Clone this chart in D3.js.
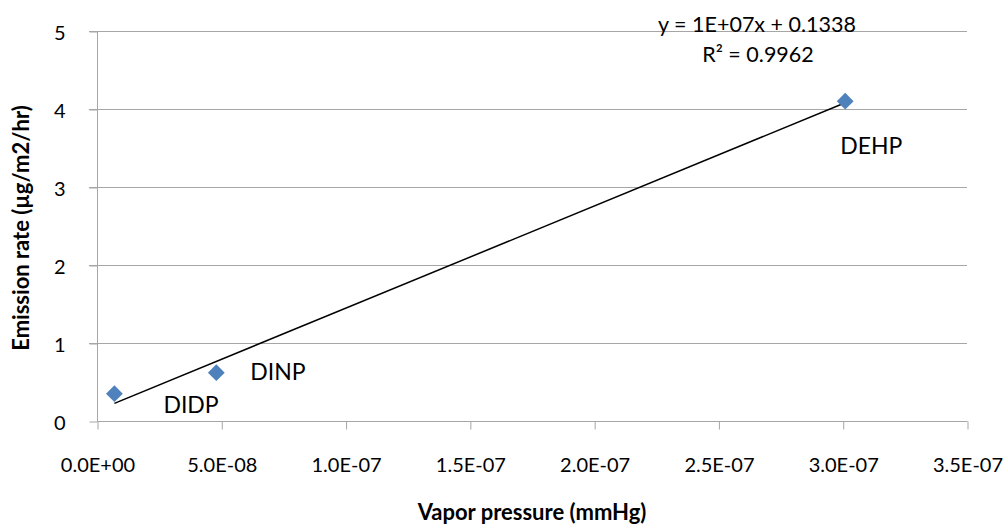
<!DOCTYPE html>
<html>
<head>
<meta charset="utf-8">
<script src="https://cdn.jsdelivr.net/npm/d3@7/dist/d3.min.js"></script>
<style>
  html, body { margin: 0; padding: 0; background: #fff; }
  svg { display: block; font-family: Lato, "Open Sans", sans-serif; }
</style>
</head>
<body>
<svg id="chart" width="1006" height="525"></svg>
<script>
// Phthalate emission rate versus vapor pressure
const compounds     = ["DIDP", "DINP", "DEHP"];
const vaporPressure = [7.0e-9, 4.8e-8, 3.01e-7];   // mmHg
const emissionRate  = [0.35, 0.62, 4.10];          // µg/m2/hr

const xTicks = [0, 0.5e-7, 1.0e-7, 1.5e-7, 2.0e-7, 2.5e-7, 3.0e-7, 3.5e-7];
const xTickLabels = ["0.0E+00", "5.0E-08", "1.0E-07", "1.5E-07", "2.0E-07", "2.5E-07", "3.0E-07", "3.5E-07"];
const yTicks = [0, 1, 2, 3, 4, 5];

const equationText = "y = 1E+07x + 0.1338";
const r2Text = "R² = 0.9962";

// label placement relative to each marker (pixels)
const labelOffset = { DIDP: [49, 19], DINP: [34, 7], DEHP: [-5, 53] };

const svg = d3.select("#chart");
const plot = { left: 97, right: 967, top: 31, bottom: 421 };

const x = d3.scaleLinear().domain([0, 3.5e-7]).range([plot.left, plot.right]);
const y = d3.scaleLinear().domain([0, 5]).range([plot.bottom, plot.top]);

const gridColor = "#a6a6a6";

// horizontal gridlines
svg.append("g")
  .selectAll("line")
  .data(yTicks.filter(d => d > 0))
  .join("line")
  .attr("x1", plot.left - 8).attr("x2", plot.right)
  .attr("y1", d => y(d) + 0.5).attr("y2", d => y(d) + 0.5)
  .attr("stroke", gridColor).attr("stroke-width", 1);

// y axis
const yAxis = svg.append("g")
  .attr("transform", `translate(${plot.left + 0.5},0.5)`)
  .call(d3.axisLeft(y).tickValues(yTicks).tickSize(8).tickPadding(24).tickFormat(d3.format("d")));
yAxis.select(".domain").attr("stroke", gridColor).attr("d", `M0,${plot.top}V${plot.bottom}`);
yAxis.selectAll(".tick line").attr("stroke", gridColor);
yAxis.selectAll(".tick text")
  .attr("font-family", "Lato, sans-serif").attr("font-size", 20).attr("fill", "#000")
  .attr("dy", "0.42em");

// x axis
const xAxis = svg.append("g")
  .attr("transform", `translate(0.5,${plot.bottom + 0.5})`)
  .call(d3.axisBottom(x).tickValues(xTicks).tickSize(8).tickPadding(28)
    .tickFormat((d, i) => xTickLabels[i]));
xAxis.select(".domain").attr("stroke", gridColor).attr("d", `M${plot.left},0H${plot.right}`);
xAxis.selectAll(".tick line").attr("stroke", gridColor);
xAxis.selectAll(".tick text")
  .attr("font-family", "Lato, sans-serif").attr("font-size", 20).attr("fill", "#000");

// least-squares trendline over the data range
const n = vaporPressure.length;
const mx = d3.mean(vaporPressure), my = d3.mean(emissionRate);
let sxy = 0, sxx = 0;
for (let i = 0; i < n; i++) {
  sxy += (vaporPressure[i] - mx) * (emissionRate[i] - my);
  sxx += (vaporPressure[i] - mx) ** 2;
}
const slope = sxy / sxx;
const intercept = my - slope * mx;
const [xmin, xmax] = d3.extent(vaporPressure);

svg.append("line")
  .attr("x1", x(xmin)).attr("y1", y(intercept + slope * xmin))
  .attr("x2", x(xmax)).attr("y2", y(intercept + slope * xmax))
  .attr("stroke", "#000").attr("stroke-width", 1.5);

// diamond markers
const diamond = d3.symbol().type(d3.symbolDiamond2).size(180);
const points = compounds.map((c, i) => ({ name: c, vx: vaporPressure[i], vy: emissionRate[i] }));

svg.append("g")
  .selectAll("path")
  .data(points)
  .join("path")
  .attr("d", diamond)
  .attr("transform", d => `translate(${x(d.vx)},${y(d.vy)})`)
  .attr("fill", "#4f81bd");

// point labels
svg.append("g")
  .selectAll("text")
  .data(points)
  .join("text")
  .attr("x", d => x(d.vx) + labelOffset[d.name][0])
  .attr("y", d => y(d.vy) + labelOffset[d.name][1])
  .attr("font-size", 23)
  .attr("fill", "#000")
  .text(d => d.name);

// trendline equation
svg.append("text")
  .attr("x", 757).attr("y", 32)
  .attr("text-anchor", "middle").attr("font-size", 21.5)
  .text(equationText);
svg.append("text")
  .attr("x", 758).attr("y", 62)
  .attr("text-anchor", "middle").attr("font-size", 21.5)
  .text(r2Text);

// axis titles
svg.append("text")
  .attr("x", (plot.left + plot.right) / 2).attr("y", 520)
  .attr("text-anchor", "middle").attr("font-size", 22).attr("font-weight", "bold")
  .text("Vapor pressure (mmHg)");

svg.append("text")
  .attr("transform", `translate(29,${(plot.top + plot.bottom) / 2 + 2}) rotate(-90)`)
  .attr("text-anchor", "middle").attr("font-size", 22).attr("font-weight", "bold")
  .text("Emission rate (µg/m2/hr)");
</script>
</body>
</html>
